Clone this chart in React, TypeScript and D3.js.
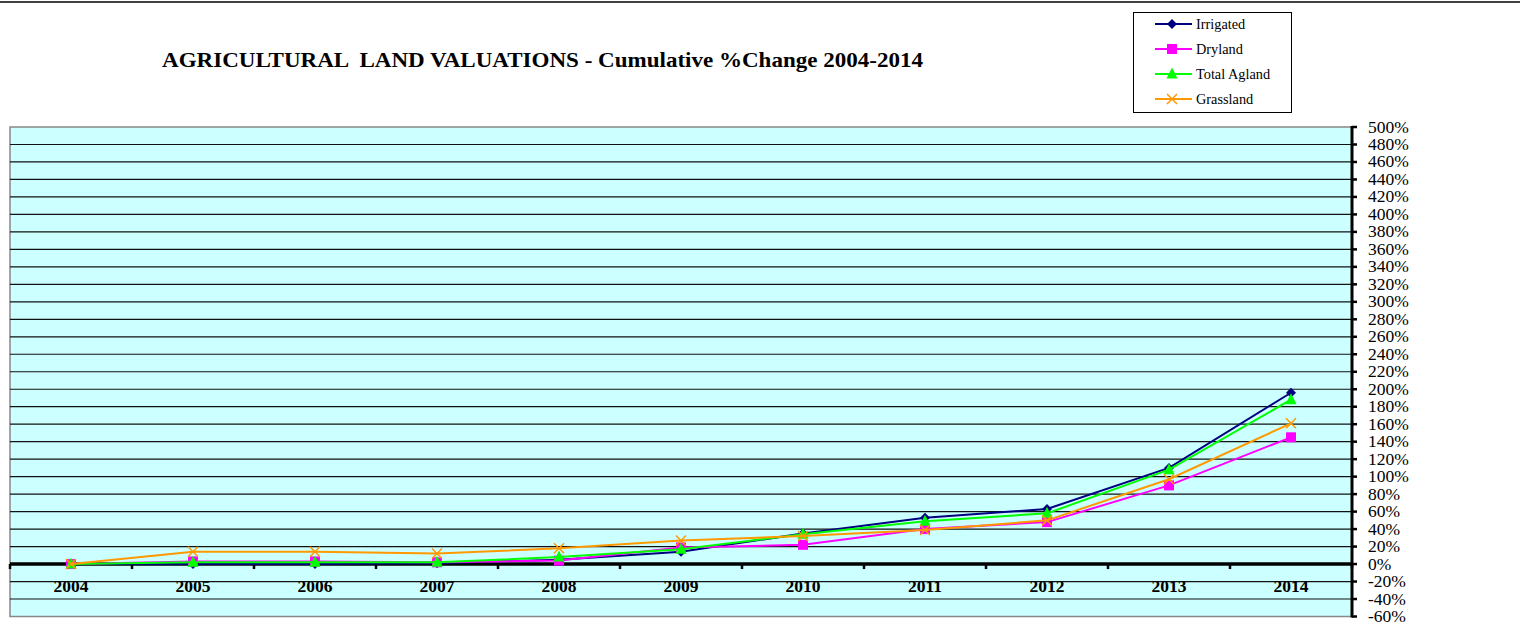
import React from "react";
import * as d3 from "d3";

const years = ["2004", "2005", "2006", "2007", "2008", "2009", "2010", "2011", "2012", "2013", "2014"];
const irrigated = [0, 0, 0, 1, 5, 14, 35, 53, 63, 110, 196];
const dryland = [0, 3, 3, 2, 4, 19, 22, 40, 48, 90, 145];
const totalAgland = [0, 2, 2, 2, 8, 17, 34, 49, 58, 108, 188];
const grassland = [0, 14, 14, 12, 18, 27, 32, 39, 50, 97, 161];
const yTicks = d3.range(-60, 501, 20);

const seriesList = [
  { name: "Irrigated", values: irrigated, color: "#000080", marker: "diamond" },
  { name: "Dryland", values: dryland, color: "#FF00FF", marker: "square" },
  { name: "Total Agland", values: totalAgland, color: "#00FF00", marker: "triangle" },
  { name: "Grassland", values: grassland, color: "#FF9900", marker: "x" },
];

const W = 1520, H = 632;
const plotL = 10, plotR = 1352, plotT = 127, plotB = 616.5;

function Marker({ type, x, y, color }: { type: string; x: number; y: number; color: string }) {
  if (type === "diamond") {
    const s = 5;
    return <path d={`M${x},${y - s}L${x + s},${y}L${x},${y + s}L${x - s},${y}Z`} fill={color} />;
  }
  if (type === "square") {
    const s = 5;
    return <rect x={x - s} y={y - s} width={2 * s} height={2 * s} fill={color} />;
  }
  if (type === "triangle") {
    const s = 5.5;
    return <path d={`M${x},${y - s - 1}L${x + s},${y + s - 1}L${x - s},${y + s - 1}Z`} fill={color} />;
  }
  const s = 5;
  return (
    <path d={`M${x - s},${y - s}L${x + s},${y + s}M${x - s},${y + s}L${x + s},${y - s}`} stroke={color} strokeWidth={1.5} fill="none" />
  );
}

export default function App() {
  const x = d3.scaleBand<string>().domain(years).range([plotL, plotR]);
  const y = d3.scaleLinear().domain([-60, 500]).range([plotB, plotT]);
  const cx = (yr: string) => (x(yr) as number) + x.bandwidth() / 2;
  const line = d3
    .line<number>()
    .x((_, i) => cx(years[i]))
    .y((d) => y(d));

  const tf = "'Liberation Serif', 'Times New Roman', serif";
  const legendY = [24, 49, 74, 99];

  return (
    <svg width={W} height={H} style={{ position: "absolute", left: 0, top: 0, background: "#fff" }}>
      <line x1={0} x2={W} y1={2} y2={2} stroke="#000" strokeWidth={1.5} />
      <text
        x={162}
        y={67}
        fontFamily={tf}
        fontWeight="bold"
        fontSize={21}
        textLength={761}
        lengthAdjust="spacingAndGlyphs"
        style={{ whiteSpace: "pre" }}
      >
        {"AGRICULTURAL  LAND VALUATIONS - Cumulative %Change 2004-2014"}
      </text>

      {/* legend */}
      <rect x={1133.5} y={12.5} width={158} height={100} fill="#fff" stroke="#000" strokeWidth={1} />
      {seriesList.map((s, i) => (
        <g key={s.name}>
          <line x1={1155} x2={1192} y1={legendY[i]} y2={legendY[i]} stroke={s.color} strokeWidth={2} />
          <Marker type={s.marker} x={1172} y={legendY[i]} color={s.color} />
          <text x={1196} y={legendY[i] + 5} fontFamily={tf} fontSize={14.3}>
            {s.name}
          </text>
        </g>
      ))}

      {/* plot background */}
      <rect x={plotL} y={plotT} width={plotR - plotL} height={plotB - plotT} fill="#CCFFFF" stroke="#888" strokeWidth={1.5} />
      {yTicks.map((t) =>
        t === 0 || t === 500 || t === -60 ? null : (
          <line key={t} x1={plotL} x2={plotR} y1={y(t)} y2={y(t)} stroke="#111" strokeWidth={1.2} />
        )
      )}

      {/* zero axis */}
      <line x1={plotL} x2={plotR} y1={y(0)} y2={y(0)} stroke="#000" strokeWidth={3.5} />
      {years.map((yr) => (
        <line key={yr} x1={x(yr) as number} x2={x(yr) as number} y1={y(0)} y2={y(0) + 5} stroke="#000" strokeWidth={2.5} />
      ))}
      <line x1={plotR} x2={plotR} y1={y(0)} y2={y(0) + 5} stroke="#000" strokeWidth={2.5} />
      {years.map((yr) => (
        <text key={yr} x={cx(yr)} y={y(0) + 28} textAnchor="middle" fontFamily={tf} fontWeight="bold" fontSize={17.5}>
          {yr}
        </text>
      ))}

      {/* right axis */}
      <line x1={plotR} x2={plotR} y1={plotT - 1} y2={plotB + 1} stroke="#000" strokeWidth={3} />
      {yTicks.map((t) => (
        <g key={t}>
          <line x1={plotR} x2={plotR + 5} y1={y(t)} y2={y(t)} stroke="#000" strokeWidth={2.5} />
          <text x={1368} y={y(t) + 5.5} fontFamily={tf} fontSize={17.5}>
            {`${t}%`}
          </text>
        </g>
      ))}

      {/* series */}
      {seriesList.map((s) => (
        <g key={s.name}>
          <path d={line(s.values) as string} fill="none" stroke={s.color} strokeWidth={2} />
          {s.values.map((v, i) => (
            <Marker key={i} type={s.marker} x={cx(years[i])} y={y(v)} color={s.color} />
          ))}
        </g>
      ))}
    </svg>
  );
}
